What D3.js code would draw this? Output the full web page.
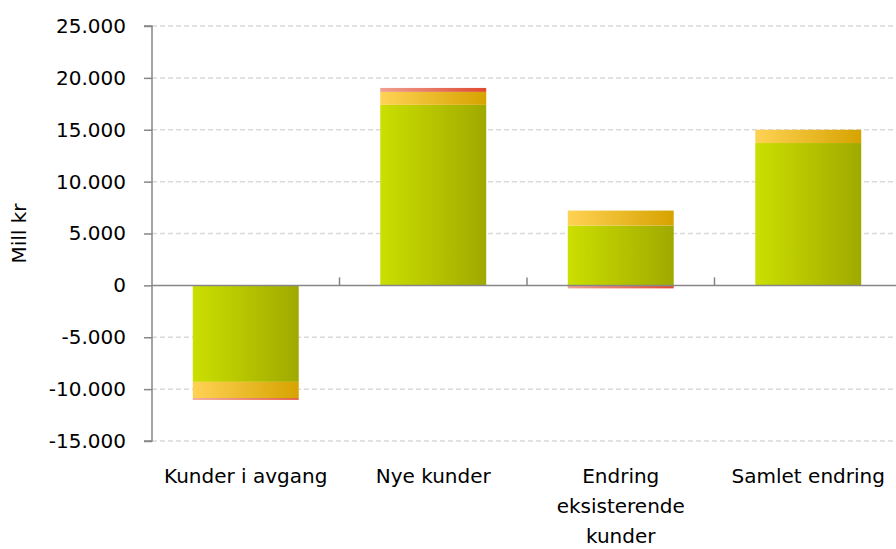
<!DOCTYPE html>
<html lang="no">
<head>
<meta charset="UTF-8">
<title>Mill kr</title>
<script src="https://cdnjs.cloudflare.com/ajax/libs/d3/7.8.5/d3.min.js"></script>
<style>
    body { margin: 0; background: #fff; }
    text { font-family: "DejaVu Sans", sans-serif; fill: #000; }
</style>
</head>
<body>
<svg width="896" height="549" class="chart"></svg>
<script>
    // values, Mill kr
    var categories = ["Kunder i avgang", "Nye kunder", "Endring eksisterende kunder", "Samlet endring"];
    var green = [-9300, 17400, 5770, 13720];
    var yellow = [-1570, 1250, 1440, 1280];
    var red = [-160, 380, -290, 0];
    var yTicks = [-15000, -10000, -5000, 0, 5000, 10000, 15000, 20000, 25000];

    var svg = d3.select("svg.chart"),
        plotLeft = 152, plotRight = 902, plotTop = 26, plotBottom = 441;

    var xScale = d3.scaleBand().domain(categories).range([plotLeft, plotRight]).paddingInner(0.435).paddingOuter(0.2175),
        yScale = d3.scaleLinear().domain([-15000, 25000]).range([plotBottom, plotTop]);

    var rows = categories.map(function (c, i) {
        return {cat: c, green: green[i], yellow: yellow[i], red: red[i]};
    });
    var keys = ["green", "yellow", "red"];
    var series = d3.stack().keys(keys).offset(d3.stackOffsetDiverging)(rows);

    // horizontal gradients like the original bars
    var grads = {
        green: ["#cbdf00", "#9fa900"],
        yellow: ["#ffd254", "#d6a300"],
        red: ["#f0a090", "#e04a30"]
    };
    var defs = svg.append("defs");
    keys.forEach(function (k) {
        var lg = defs.append("linearGradient").attr("id", "g_" + k)
            .attr("x1", 0).attr("x2", 1).attr("y1", 0).attr("y2", 0);
        lg.append("stop").attr("offset", "0%").attr("stop-color", grads[k][0]);
        lg.append("stop").attr("offset", "100%").attr("stop-color", grads[k][1]);
    });

    // dashed grid
    svg.append("g").selectAll("line")
        .data(yTicks.filter(function (d) { return d !== 0; }))
        .enter().append("line")
        .attr("x1", plotLeft).attr("x2", 896)
        .attr("y1", function (d) { return yScale(d); })
        .attr("y2", function (d) { return yScale(d); })
        .attr("stroke", "#d9d9d9")
        .attr("stroke-width", 1.5)
        .attr("stroke-dasharray", "5,3");

    svg.append("g").selectAll("g")
        .data(series)
        .enter().append("g")
        .attr("fill", function (d) { return "url(#g_" + d.key + ")"; })
        .selectAll("rect")
        .data(function (d) { return d; })
        .enter().append("rect")
        .attr("x", function (d) { return xScale(d.data.cat); })
        .attr("width", xScale.bandwidth())
        .attr("y", function (d) { return yScale(Math.max(d[0], d[1])); })
        .attr("height", function (d) { return Math.abs(yScale(d[0]) - yScale(d[1])); });

    // y axis
    var yAxis = svg.append("g")
        .attr("transform", "translate(" + plotLeft + ",0)")
        .call(d3.axisLeft(yScale).tickValues(yTicks).tickSize(8).tickPadding(18)
            .tickFormat(function (d) { return d3.format(",")(d).replace(/,/g, ".").replace("−", "-"); }));
    yAxis.select(".domain").attr("stroke", "#868686").attr("stroke-width", 1.5)
        .attr("d", "M-8," + plotTop + "H0V" + plotBottom + "H-8");
    yAxis.selectAll(".tick line").attr("stroke", "#868686").attr("stroke-width", 1.5);
    yAxis.selectAll(".tick text").attr("font-size", "20px").attr("fill", "#000")
        .attr("font-family", "\"DejaVu Sans\", sans-serif");

    // zero line with category ticks
    var zero = yScale(0);
    svg.append("line")
        .attr("x1", plotLeft).attr("x2", 896)
        .attr("y1", zero).attr("y2", zero)
        .attr("stroke", "#868686").attr("stroke-width", 1.5);
    var step = xScale.step();
    svg.append("g").selectAll("line")
        .data([1, 2, 3])
        .enter().append("line")
        .attr("x1", function (d) { return plotLeft + d * step; })
        .attr("x2", function (d) { return plotLeft + d * step; })
        .attr("y1", zero).attr("y2", zero - 8)
        .attr("stroke", "#868686").attr("stroke-width", 1.5);

    // category labels, wrapped
    var labels = svg.append("g").selectAll("text")
        .data(categories)
        .enter().append("text")
        .attr("x", function (d) { return xScale(d) + xScale.bandwidth() / 2; })
        .attr("y", 483)
        .attr("text-anchor", "middle")
        .attr("font-size", "20px");
    labels.each(function (d) {
        var t = d3.select(this), words = d.split(" "), line = [];
        var x = t.attr("x");
        var ts = t.append("tspan").attr("x", x).attr("dy", 0);
        words.forEach(function (w) {
            line.push(w);
            ts.text(line.join(" "));
            if (ts.node().getComputedTextLength() > 184 && line.length > 1) {
                line.pop();
                ts.text(line.join(" "));
                line = [w];
                ts = t.append("tspan").attr("x", x).attr("dy", 30).text(w);
            }
        });
    });

    svg.append("text")
        .attr("transform", "translate(26," + ((plotTop + plotBottom) / 2) + ") rotate(-90)")
        .attr("text-anchor", "middle")
        .attr("font-size", "20px")
        .text("Mill kr");
</script>
</body>
</html>
